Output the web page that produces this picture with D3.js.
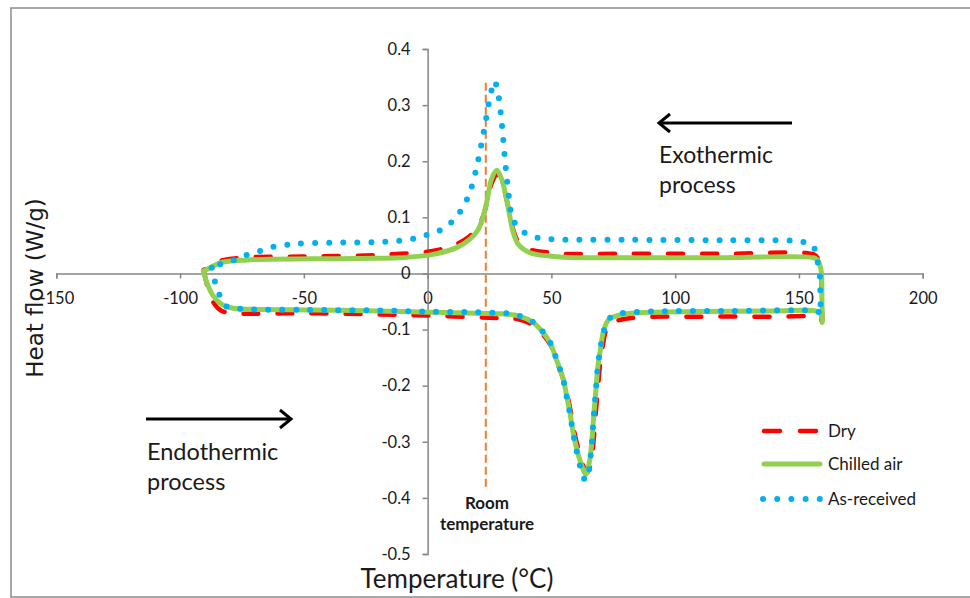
<!DOCTYPE html>
<html>
<head>
<meta charset="utf-8">
<script src="https://cdn.jsdelivr.net/npm/d3@7"></script>
<style>
  body { margin: 0; background: #fff; }
  svg { display: block; }
  text { font-family: Lato, "Open Sans", sans-serif; fill: #1a1a1a; }
</style>
</head>
<body>
<svg width="970" height="598"></svg>
<script>
// series: temperature (°C) and heat flow (W/g), heating then cooling
var dryT  = [-90.5, -88.5, -86.5, -83.5, -78, -70, -50, -20, 0, 20, 30, 37, 42.5, 46.8, 49.7, 52.3, 55.2, 56.7, 58, 59.4, 61, 62.8, 64.5, 66.2, 67.2, 68, 68.8, 69.6, 70.8, 72.2, 74.3, 77.5, 86, 110, 140, 157, 158.8, 159.3, 159.2, 159, 158.5, 157.5, 156, 120, 80, 55, 48, 41, 36.8, 34.8, 33.3, 32, 30, 28, 26, 24.2, 22.5, 20.2, 16.8, 11.5, 2, -11, -25, -50, -75, -84, -88, -90.5];
var dryHF = [0.006, -0.03, -0.052, -0.066, -0.071, -0.072, -0.071, -0.073, -0.075, -0.078, -0.08, -0.082, -0.092, -0.11, -0.128, -0.158, -0.194, -0.222, -0.25, -0.285, -0.315, -0.342, -0.355, -0.33, -0.29, -0.245, -0.205, -0.165, -0.128, -0.1, -0.088, -0.083, -0.078, -0.077, -0.077, -0.077, -0.08, -0.087, -0.05, 0.0, 0.016, 0.028, 0.034, 0.035, 0.035, 0.035, 0.038, 0.043, 0.055, 0.075, 0.102, 0.13, 0.163, 0.176, 0.162, 0.13, 0.103, 0.082, 0.066, 0.052, 0.04, 0.035, 0.032, 0.03, 0.028, 0.022, 0.012, 0.006];

var chilledT  = [-90.6, -88.6, -86.6, -83.2, -78.5, -70, -46, -20, 0, 20, 30, 37, 42.5, 46.6, 49.4, 52, 54.8, 56.2, 57.5, 58.8, 60.3, 62.3, 63.9, 65.5, 66.4, 67.2, 68, 68.8, 70, 71.2, 73.2, 76.5, 86, 110, 140, 157, 158.8, 159.4, 159.3, 159.1, 158.6, 157.5, 156, 120, 80, 55, 49.4, 41.3, 36.6, 34.6, 33.2, 31.9, 29.9, 27.9, 25.8, 24.1, 22.5, 20.4, 17.1, 11.7, 2.3, -11.2, -20, -46, -73, -83.9, -87.9, -90.6];
var chilledHF = [0.004, -0.023, -0.04, -0.055, -0.062, -0.064, -0.065, -0.067, -0.069, -0.071, -0.072, -0.076, -0.087, -0.105, -0.123, -0.153, -0.189, -0.219, -0.248, -0.284, -0.314, -0.343, -0.358, -0.332, -0.296, -0.248, -0.207, -0.165, -0.13, -0.1, -0.082, -0.075, -0.07, -0.068, -0.067, -0.067, -0.072, -0.087, -0.05, 0.0, 0.013, 0.024, 0.028, 0.028, 0.028, 0.029, 0.031, 0.037, 0.052, 0.073, 0.102, 0.132, 0.168, 0.184, 0.168, 0.132, 0.102, 0.078, 0.061, 0.046, 0.034, 0.028, 0.027, 0.026, 0.024, 0.019, 0.01, 0.004];

var asRecT  = [-87.2, -85.9, -84.2, -81.2, -75.8, -50, -20, 0, 25, 35, 42.5, 46.6, 49.4, 52, 54.8, 56.2, 57.5, 58.8, 60.3, 62, 63.5, 64.5, 65.5, 66.4, 67.2, 68, 68.8, 70, 71.5, 73.5, 77, 90, 120, 155, 157.8, 158.6, 158.7, 158.6, 158.4, 157.3, 155.5, 150.4, 120, 80, 50, 43.2, 38.4, 34.2, 33.3, 32.6, 32, 31.4, 30.9, 30.4, 29.9, 29.3, 28.5, 27, 25.4, 24.2, 23.3, 22.2, 21.2, 20, 18.7, 17.1, 14.8, 11.8, 7.8, 2.9, -2.4, -8, -19.3, -35, -52.9, -58.3, -63.7, -69.1, -74.5, -79.2, -84.2, -87.2];
var asRecHF = [0.01, -0.015, -0.037, -0.059, -0.063, -0.065, -0.066, -0.068, -0.07, -0.073, -0.086, -0.104, -0.122, -0.152, -0.19, -0.22, -0.25, -0.285, -0.318, -0.35, -0.367, -0.367, -0.34, -0.3, -0.25, -0.207, -0.165, -0.128, -0.098, -0.08, -0.072, -0.068, -0.067, -0.066, -0.068, -0.074, -0.049, -0.025, -0.002, 0.025, 0.05, 0.057, 0.059, 0.06, 0.061, 0.065, 0.075, 0.098, 0.121, 0.146, 0.171, 0.196, 0.221, 0.246, 0.27, 0.295, 0.32, 0.343, 0.318, 0.291, 0.267, 0.242, 0.218, 0.193, 0.169, 0.145, 0.122, 0.102, 0.084, 0.073, 0.066, 0.06, 0.056, 0.055, 0.053, 0.05, 0.046, 0.038, 0.031, 0.022, 0.016, 0.01];

var seriesNames = ['Dry', 'Chilled air', 'As-received'];
var xTicks = [-150, -100, -50, 0, 50, 100, 150, 200];
var yTicks = [-0.5, -0.4, -0.3, -0.2, -0.1, 0, 0.1, 0.2, 0.3, 0.4];
var roomTemp = 23.5;
var roomSpan = [-0.381, 0.34];

var svg = d3.select('svg');

svg.append('rect')
    .attr('x', 11).attr('y', 8)
    .attr('width', 975).attr('height', 589)
    .attr('fill', 'none').attr('stroke', '#8c8c8c').attr('stroke-width', 1.5);

var x = d3.scaleLinear().domain([-150, 200]).range([56.3, 922.7]);
var y = d3.scaleLinear().domain([-0.5, 0.4]).range([554, 49]);

function fmt(d) { return String(+d.toFixed(1)); }

var xAxis = svg.append('g')
    .attr('transform', 'translate(0,' + y(0) + ')')
    .call(d3.axisBottom(x).tickValues(xTicks).tickFormat(fmt).tickSize(5).tickPadding(14));
var yAxis = svg.append('g')
    .attr('transform', 'translate(' + x(0) + ',0)')
    .call(d3.axisLeft(y).tickValues(yTicks).tickFormat(fmt).tickSize(5).tickPadding(12));

[xAxis, yAxis].forEach(function(g) {
    g.select('.domain').attr('stroke', '#868686').attr('stroke-width', 1.5);
    g.selectAll('.tick line').attr('stroke', '#868686').attr('stroke-width', 1.5);
    g.selectAll('.tick text')
        .style('font-family', 'Lato, sans-serif')
        .style('font-size', '16.5px')
        .attr('fill', '#1a1a1a');
});

// room temperature marker
svg.append('line')
    .attr('x1', x(roomTemp)).attr('x2', x(roomTemp))
    .attr('y1', y(roomSpan[1])).attr('y2', y(roomSpan[0]))
    .attr('stroke', '#ED7D31').attr('stroke-width', 2)
    .attr('stroke-dasharray', '8,4');

var line = d3.line()
    .x(function(d) { return x(d[0]); })
    .y(function(d) { return y(d[1]); })
    .curve(d3.curveCatmullRom.alpha(0.5));

function pairs(t, v) { return t.map(function(d, i) { return [d, v[i]]; }); }

var styles = [
    { color: '#FF0000', width: 4.5, dash: '15,19', cap: 'round' },
    { color: '#92D050', width: 5, dash: null, cap: 'round' },
    { color: '#00B0F0', width: 6, dash: '0,14', cap: 'round' }
];
var series = [pairs(dryT, dryHF), pairs(chilledT, chilledHF), pairs(asRecT, asRecHF)];

series.forEach(function(s, i) {
    svg.append('path')
        .datum(s)
        .attr('d', line)
        .attr('fill', 'none')
        .attr('stroke', styles[i].color)
        .attr('stroke-width', styles[i].width)
        .attr('stroke-linecap', styles[i].cap)
        .attr('stroke-linejoin', 'round')
        .attr('stroke-dasharray', styles[i].dash);
});

// legend
var legendY = [431, 464, 499];
seriesNames.forEach(function(name, i) {
    var st = styles[i];
    svg.append('line')
        .attr('x1', i === 2 ? 763 : 764).attr('x2', i === 2 ? 821 : 820)
        .attr('y1', legendY[i]).attr('y2', legendY[i])
        .attr('stroke', st.color)
        .attr('stroke-width', st.width)
        .attr('stroke-linecap', st.cap)
        .attr('stroke-dasharray', i === 0 ? '16,20' : (i === 2 ? '0,14.2' : null));
    svg.append('text')
        .attr('x', 828).attr('y', legendY[i])
        .attr('dy', '0.35em')
        .style('font-size', '17px')
        .text(name);
});

// axis titles
svg.append('text')
    .attr('x', 457).attr('y', 588)
    .attr('text-anchor', 'middle')
    .style('font-size', '26px')
    .text('Temperature (°C)');
svg.append('text')
    .attr('transform', 'translate(43,288) rotate(-90)')
    .attr('text-anchor', 'middle')
    .style('font-family', '"DejaVu Sans", sans-serif')
    .style('font-size', '23px')
    .text('Heat flow (W/g)');

// annotations
function arrow(x1, x2, yy) {
    var dir = x2 > x1 ? 1 : -1;
    svg.append('line')
        .attr('x1', x1).attr('x2', x2 - dir * 1).attr('y1', yy).attr('y2', yy)
        .attr('stroke', '#000').attr('stroke-width', 3);
    svg.append('path')
        .attr('d', 'M' + (x2 - dir * 11) + ',' + (yy - 9) + 'L' + x2 + ',' + yy + 'L' + (x2 - dir * 11) + ',' + (yy + 9))
        .attr('fill', 'none').attr('stroke', '#000').attr('stroke-width', 3)
        .attr('stroke-linejoin', 'miter');
}
arrow(792, 659, 123);
arrow(146, 291, 419);

var exo = svg.append('text').style('font-size', '23px');
exo.append('tspan').attr('x', 659).attr('y', 163).text('Exothermic');
exo.append('tspan').attr('x', 659).attr('y', 193).text('process');

var endo = svg.append('text').style('font-size', '23.5px');
endo.append('tspan').attr('x', 147).attr('y', 460).text('Endothermic');
endo.append('tspan').attr('x', 147).attr('y', 490).text('process');

var room = svg.append('text')
    .attr('text-anchor', 'middle')
    .style('font-size', '17px')
    .style('font-weight', 'bold');
room.append('tspan').attr('x', 487).attr('y', 509).text('Room');
room.append('tspan').attr('x', 487).attr('y', 530).text('temperature');
</script>
</body>
</html>
